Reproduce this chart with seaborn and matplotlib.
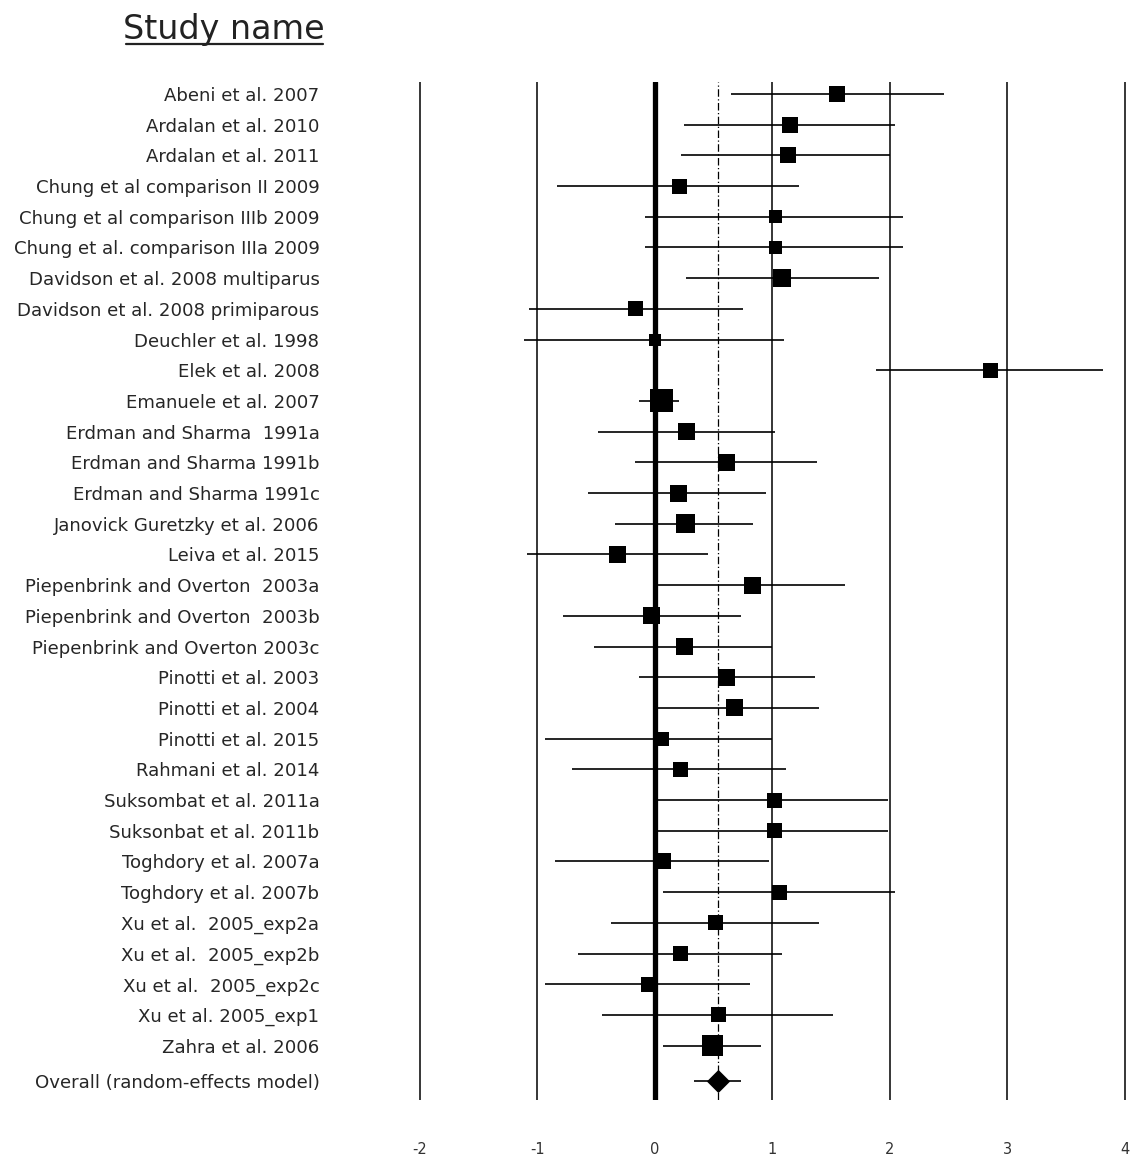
import matplotlib
matplotlib.use("Agg")
import matplotlib.pyplot as plt
import seaborn as sns
import numpy as np
import pandas as pd

# Study-level data: standardized effect, 95% CI bounds and relative weight
studies = [
    "Abeni et al. 2007",
    "Ardalan et al. 2010",
    "Ardalan et al. 2011",
    "Chung et al comparison II 2009",
    "Chung et al comparison IIIb 2009",
    "Chung et al. comparison IIIa 2009",
    "Davidson et al. 2008 multiparus",
    "Davidson et al. 2008 primiparous",
    "Deuchler et al. 1998",
    "Elek et al. 2008",
    "Emanuele et al. 2007",
    "Erdman and Sharma  1991a",
    "Erdman and Sharma 1991b",
    "Erdman and Sharma 1991c",
    "Janovick Guretzky et al. 2006",
    "Leiva et al. 2015",
    "Piepenbrink and Overton  2003a",
    "Piepenbrink and Overton  2003b",
    "Piepenbrink and Overton 2003c",
    "Pinotti et al. 2003",
    "Pinotti et al. 2004",
    "Pinotti et al. 2015",
    "Rahmani et al. 2014",
    "Suksombat et al. 2011a",
    "Suksonbat et al. 2011b",
    "Toghdory et al. 2007a",
    "Toghdory et al. 2007b",
    "Xu et al.  2005_exp2a",
    "Xu et al.  2005_exp2b",
    "Xu et al.  2005_exp2c",
    "Xu et al. 2005_exp1",
    "Zahra et al. 2006",
]
effect = [1.55, 1.15, 1.13, 0.21, 1.03, 1.03, 1.08, -0.16, 0.00, 2.86, 0.06,
          0.27, 0.61, 0.20, 0.26, -0.32, 0.83, -0.03, 0.25, 0.61, 0.68, 0.06,
          0.22, 1.02, 1.02, 0.07, 1.06, 0.52, 0.22, -0.05, 0.54, 0.49]
lower = [0.65, 0.25, 0.22, -0.83, -0.08, -0.08, 0.27, -1.07, -1.11, 1.88, -0.13,
         -0.48, -0.17, -0.57, -0.34, -1.09, 0.02, -0.78, -0.52, -0.13, 0.02, -0.93,
         -0.70, 0.02, 0.02, -0.85, 0.07, -0.37, -0.65, -0.93, -0.45, 0.07]
upper = [2.46, 2.04, 2.00, 1.23, 2.11, 2.11, 1.91, 0.75, 1.10, 3.81, 0.21,
         1.02, 1.38, 0.95, 0.84, 0.45, 1.62, 0.73, 1.00, 1.36, 1.40, 1.00,
         1.12, 1.98, 1.98, 0.97, 2.04, 1.40, 1.08, 0.81, 1.52, 0.90]
weights = [3.0, 3.2, 3.2, 2.8, 2.1, 2.1, 4.0, 2.8, 1.8, 2.8, 6.6,
           3.6, 3.6, 3.6, 4.5, 3.6, 3.6, 3.6, 3.6, 3.6, 3.6, 2.5,
           2.8, 2.8, 2.8, 3.2, 2.8, 2.8, 2.8, 2.8, 2.8, 5.5]

overall_label = "Overall (random-effects model)"
overall_effect = 0.54
overall_lower = 0.33
overall_upper = 0.73

x_ticks = [-2, -1, 0, 1, 2, 3, 4]

# Row positions: one per study, the pooled row slightly further down
n = len(studies)
rows = np.arange(n, dtype=float)
overall_row = n + 0.14

df = pd.DataFrame({"study": studies, "effect": effect, "lower": lower,
                   "upper": upper, "weight": weights, "row": rows})
pooled = pd.DataFrame({"effect": [overall_effect], "row": [overall_row]})

sns.set_theme(style="white")
plt.rcParams["font.family"] = ["DejaVu Sans"]

W, H = 1131, 1156
fig = plt.figure(figsize=(W / 100, H / 100), dpi=100)
ax_left, ax_right = 400 / W, 1.0
ax_top, ax_bottom = 1 - 82 / H, 1 - 1100 / H
ax = fig.add_axes([ax_left, ax_bottom, ax_right - ax_left, ax_top - ax_bottom])

# vertical reference lines
for t in x_ticks:
    ax.axvline(t, color="black", lw=3.8 if t == 0 else 1.1, zorder=1)
ax.axvline(overall_effect, color="black", lw=0.9, ls=(0, (6, 2, 1, 2)), zorder=1)

# confidence intervals
ax.hlines(df["row"], df["lower"], df["upper"], color="black", lw=1.2, zorder=2)
ax.hlines([overall_row], [overall_lower], [overall_upper], color="black", lw=1.2, zorder=2)

# weighted squares (area proportional to weight)
scale = 41.5
sns.scatterplot(data=df, x="effect", y="row", size="weight",
                sizes=(min(weights) * scale, max(weights) * scale),
                size_norm=(min(weights), max(weights)),
                marker="s", color="black", edgecolor="black", linewidth=0,
                legend=False, ax=ax, zorder=3)
sns.scatterplot(data=pooled, x="effect", y="row", marker="D", s=140,
                color="black", edgecolor="black", linewidth=0,
                legend=False, ax=ax, zorder=3)

ax.set_xlim(-2 - 19.6 / 117.6, 4 + 6 / 117.6)
ax.set_ylim(32.77, -0.39)
ax.set_xticks(x_ticks)
ax.set_xticklabels([str(t) for t in x_ticks], fontsize=10.5, color="#333333")
ax.set_yticks(list(rows) + [overall_row])
ax.set_yticklabels(studies + [overall_label], fontsize=13.1, color="#262626")
ax.tick_params(axis="x", length=0, pad=30)
ax.tick_params(axis="y", length=0, pad=58)
ax.set_xlabel("")
ax.set_ylabel("")
for s in ax.spines.values():
    s.set_visible(False)
ax.grid(False)

# column header, underlined
fig.text(224 / W, 1 - 30 / H, "Study name", fontsize=24, family="DejaVu Sans",
         color="#222222", ha="center", va="center")
fig.add_artist(plt.Line2D([126 / W, 323 / W], [1 - 44 / H, 1 - 44 / H],
                          color="#222222", lw=1.6))

fig.savefig("out.png", dpi=100, facecolor="white")
